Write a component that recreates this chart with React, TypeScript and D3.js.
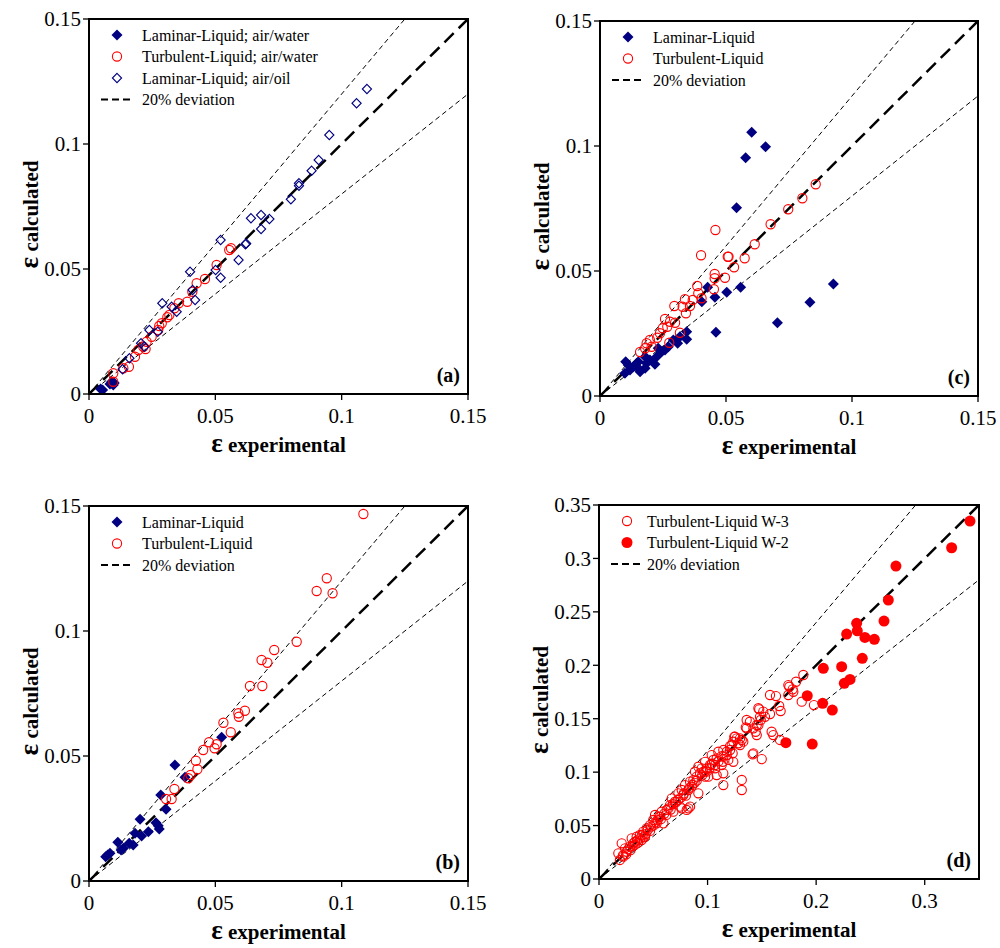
import { useEffect, useRef } from "react";
import * as d3 from "d3";

type Pt = [number, number];

// axis ticks
const ticks015 = [0, 0.05, 0.1, 0.15];
const labels015 = ["0", "0.05", "0.1", "0.15"];
const ticksDy = [0, 0.05, 0.1, 0.15, 0.2, 0.25, 0.3, 0.35];
const labelsDy = ["0", "0.05", "0.1", "0.15", "0.2", "0.25", "0.3", "0.35"];
const ticksDx = [0, 0.1, 0.2, 0.3];
const labelsDx = ["0", "0.1", "0.2", "0.3"];

// panel (a)
const aLaminarWater: Pt[] = [
  [0.0046, 0.002], [0.0054, 0.0016], [0.0083, 0.004], [0.0096, 0.0036],
  [0.009, 0.0049], [0.01, 0.0044],
];
const aTurbulentWater: Pt[] = [
  [0.0555, 0.0576], [0.0562, 0.0583], [0.0505, 0.0516], [0.0459, 0.046],
  [0.0426, 0.0443], [0.0409, 0.0409], [0.0389, 0.0369], [0.0355, 0.0363],
  [0.0338, 0.0343], [0.0318, 0.0316], [0.031, 0.0307], [0.0288, 0.0283],
  [0.0278, 0.0272], [0.0274, 0.0256], [0.0248, 0.0229], [0.0228, 0.0209],
  [0.0215, 0.0189], [0.0224, 0.018], [0.0182, 0.0149], [0.0158, 0.0109],
  [0.0136, 0.0103], [0.0096, 0.0083], [0.0096, 0.0049], [0.0195, 0.0176],
];
const aLaminarOil: Pt[] = [
  [0.11, 0.122], [0.1059, 0.1163], [0.0951, 0.1036], [0.0909, 0.0936],
  [0.0881, 0.0893], [0.0831, 0.0843], [0.0831, 0.0833], [0.0799, 0.0779],
  [0.0681, 0.0716], [0.0641, 0.0703], [0.0714, 0.07], [0.0681, 0.066],
  [0.0619, 0.0599], [0.0622, 0.0602], [0.0592, 0.0536], [0.0521, 0.0616],
  [0.0501, 0.0496], [0.0521, 0.0465], [0.04, 0.0489], [0.041, 0.0416],
  [0.042, 0.0376], [0.029, 0.0363], [0.0327, 0.0349], [0.0347, 0.0329],
  [0.0239, 0.0256], [0.0206, 0.0203], [0.0219, 0.0189], [0.0272, 0.0249],
  [0.016, 0.0143], [0.0133, 0.0099],
];

// panel (b)
const bLaminar: Pt[] = [
  [0.0525, 0.0575], [0.034, 0.0464], [0.038, 0.0415], [0.0284, 0.0344],
  [0.0305, 0.0287], [0.0202, 0.0247], [0.0265, 0.0233], [0.0274, 0.0221],
  [0.0278, 0.0208], [0.0235, 0.0197], [0.0182, 0.0191], [0.0208, 0.018],
  [0.0114, 0.0155], [0.0175, 0.0144], [0.0159, 0.0151], [0.0127, 0.0124],
  [0.0136, 0.0131], [0.0083, 0.0111], [0.0066, 0.0097], [0.0074, 0.0104],
];
const bTurbulent: Pt[] = [
  [0.1086, 0.1468], [0.0941, 0.1211], [0.0901, 0.116], [0.0964, 0.1151],
  [0.0822, 0.0957], [0.0733, 0.0924], [0.0683, 0.0884], [0.0706, 0.0873],
  [0.0637, 0.078], [0.0686, 0.078], [0.0617, 0.0681], [0.0591, 0.0671],
  [0.0593, 0.0657], [0.0532, 0.0633], [0.0561, 0.0595], [0.0475, 0.0555],
  [0.0505, 0.0547], [0.0497, 0.0531], [0.0452, 0.0524], [0.0423, 0.0481],
  [0.0429, 0.0447], [0.0402, 0.0424], [0.0393, 0.0411], [0.0338, 0.0368],
  [0.0305, 0.0328], [0.0327, 0.0328],
];

// panel (c)
const cLaminar: Pt[] = [
  [0.0602, 0.1055], [0.0657, 0.0997], [0.0578, 0.0953], [0.0542, 0.0753],
  [0.0926, 0.0448], [0.0833, 0.0375], [0.0704, 0.0293], [0.046, 0.0255],
  [0.0558, 0.0435], [0.0503, 0.0415], [0.0456, 0.0395], [0.0427, 0.0435],
  [0.0404, 0.0377], [0.0344, 0.0257], [0.0344, 0.0227], [0.0308, 0.0211],
  [0.0271, 0.0197], [0.0245, 0.0177], [0.0218, 0.0127], [0.0179, 0.0157],
  [0.0152, 0.0137], [0.0102, 0.0137], [0.0099, 0.0091], [0.0119, 0.0104],
  [0.0132, 0.0117], [0.0159, 0.0097], [0.0179, 0.0111], [0.0198, 0.0144],
  [0.0225, 0.0157], [0.0258, 0.0184], [0.0291, 0.0224], [0.0317, 0.0237],
  [0.0231, 0.0191], [0.0146, 0.0117], [0.0112, 0.0124], [0.0185, 0.0131],
];
const cTurbulent: Pt[] = [
  [0.0856, 0.0847], [0.0803, 0.0791], [0.0747, 0.0747], [0.0677, 0.0687],
  [0.0458, 0.0664], [0.0614, 0.0607], [0.0401, 0.0563], [0.0507, 0.0557],
  [0.051, 0.0557], [0.0574, 0.0551], [0.0532, 0.0515], [0.0455, 0.0488],
  [0.0455, 0.0471], [0.0496, 0.0473], [0.0452, 0.0427], [0.0386, 0.044],
  [0.039, 0.0411], [0.0403, 0.0391], [0.0337, 0.0387], [0.0368, 0.0384],
  [0.0295, 0.036], [0.0328, 0.0357], [0.0357, 0.036], [0.0341, 0.0331],
  [0.0258, 0.0308], [0.0278, 0.0297], [0.0298, 0.0293], [0.0249, 0.0271],
  [0.0267, 0.0277], [0.0317, 0.0253], [0.0275, 0.0213], [0.0238, 0.0251],
  [0.0198, 0.0224], [0.0185, 0.0211], [0.0205, 0.0197], [0.0179, 0.0191],
  [0.0159, 0.0176], [0.0227, 0.0233],
];

// panel (d)
const dW3: Pt[] = [
  [0.1882, 0.1909], [0.1815, 0.1846], [0.1753, 0.1799], [0.179, 0.1752],
  [0.1744, 0.1722], [0.163, 0.1712], [0.1575, 0.1722], [0.1867, 0.1659],
  [0.198, 0.1628], [0.166, 0.1619], [0.1673, 0.1572], [0.1476, 0.1588],
  [0.1575, 0.1544], [0.1529, 0.1518], [0.149, 0.1488], [0.136, 0.1488],
  [0.1468, 0.1441], [0.1422, 0.141], [0.1352, 0.1419], [0.1443, 0.1378],
  [0.1453, 0.1347], [0.159, 0.1378], [0.1605, 0.1347], [0.1667, 0.1301],
  [0.1246, 0.1331], [0.1268, 0.1316], [0.1315, 0.1301], [0.1237, 0.1285],
  [0.1299, 0.1254], [0.1207, 0.1244], [0.1145, 0.1207], [0.1176, 0.116],
  [0.1099, 0.1191], [0.1084, 0.1129], [0.1038, 0.116], [0.1231, 0.1176],
  [0.1415, 0.1166], [0.1499, 0.1122], [0.114, 0.1097], [0.1023, 0.1067],
  [0.0977, 0.1097], [0.1069, 0.1036], [0.0946, 0.1036], [0.0992, 0.1004],
  [0.0915, 0.1051], [0.1145, 0.0989], [0.0884, 0.1004], [0.1145, 0.0879],
  [0.1315, 0.0927], [0.1315, 0.0833], [0.1784, 0.1775], [0.1744, 0.1815],
  [0.0209, 0.0334], [0.0178, 0.024], [0.0193, 0.0178], [0.0224, 0.0209],
  [0.0255, 0.0255], [0.024, 0.0287], [0.0286, 0.0302], [0.0316, 0.0334],
  [0.0301, 0.0381], [0.0347, 0.0396], [0.0332, 0.0349], [0.0378, 0.0412],
  [0.0408, 0.0443], [0.0393, 0.0365], [0.0439, 0.0474], [0.0424, 0.0396],
  [0.047, 0.0505], [0.05, 0.0552], [0.0516, 0.0599], [0.0531, 0.0521],
  [0.0562, 0.0583], [0.0577, 0.063], [0.0593, 0.0521], [0.0623, 0.0646],
  [0.0654, 0.0692], [0.067, 0.0755], [0.07, 0.0723], [0.0685, 0.063],
  [0.0746, 0.0677], [0.0762, 0.0661], [0.0823, 0.0661], [0.0808, 0.0646],
  [0.0839, 0.0677], [0.0731, 0.0802], [0.0762, 0.0833], [0.0792, 0.0879],
  [0.0777, 0.0786], [0.0823, 0.0833], [0.0854, 0.0864], [0.0869, 0.0926],
  [0.0839, 0.0911], [0.0915, 0.0802], [0.09, 0.0958], [0.093, 0.0989],
  [0.0961, 0.1004], [0.0992, 0.1036], [0.0977, 0.0958], [0.1007, 0.0958],
  [0.1084, 0.0973], [0.1069, 0.1067], [0.1053, 0.1114], [0.113, 0.1067],
  [0.1145, 0.1145], [0.1176, 0.1191], [0.1207, 0.1207], [0.1222, 0.1254],
  [0.1191, 0.1114], [0.1237, 0.1097], [0.1253, 0.1331], [0.1299, 0.1316],
  [0.1329, 0.1285], [0.1283, 0.127], [0.1422, 0.1176], [0.136, 0.141],
  [0.139, 0.1472], [0.1453, 0.1441], [0.1483, 0.1518], [0.1513, 0.1566],
  [0.1468, 0.1598], [0.022, 0.022], [0.025, 0.023], [0.027, 0.028],
  [0.029, 0.027], [0.031, 0.031], [0.033, 0.032], [0.035, 0.036],
  [0.036, 0.034], [0.038, 0.038], [0.04, 0.041], [0.041, 0.039],
  [0.043, 0.042], [0.045, 0.046], [0.047, 0.045], [0.048, 0.049],
  [0.05, 0.05], [0.052, 0.053], [0.054, 0.055], [0.055, 0.058],
  [0.057, 0.056], [0.06, 0.061], [0.062, 0.06], [0.064, 0.066],
  [0.066, 0.065], [0.068, 0.07], [0.071, 0.072], [0.073, 0.074],
  [0.075, 0.076], [0.078, 0.08], [0.08, 0.078], [0.083, 0.085],
  [0.086, 0.088], [0.088, 0.09], [0.09, 0.092], [0.095, 0.097],
  [0.098, 0.101], [0.102, 0.104], [0.104, 0.108], [0.11, 0.11],
  [0.113, 0.115],
];
const dW2: Pt[] = [
  [0.3417, 0.335], [0.3248, 0.31], [0.2735, 0.2929], [0.2665, 0.261],
  [0.2625, 0.2414], [0.2373, 0.2393], [0.2379, 0.2323], [0.2281, 0.2292],
  [0.2449, 0.2261], [0.2536, 0.2243], [0.2425, 0.2065], [0.2066, 0.1972],
  [0.2235, 0.1987], [0.2259, 0.1831], [0.2312, 0.1868], [0.1918, 0.1715],
  [0.206, 0.1644], [0.2149, 0.1581], [0.1721, 0.1276], [0.1964, 0.1263],
];

const NAVY = "#000080";
const RED = "#ff0000";
const FONT = "'Liberation Serif', 'Times New Roman', serif";

type Kind = "diamondFill" | "diamondOpen" | "circleOpen" | "circleFill";
type Series = { label: string; kind: Kind; data: Pt[] };

const panels = [
  {
    id: "a", left: 89, top: 19, w: 379, h: 375, max: 0.15,
    xt: ticks015, xl: labels015, yt: ticks015, yl: labels015,
    textDx: 53,
    series: [
      { label: "Laminar-Liquid; air/water", kind: "diamondFill", data: aLaminarWater },
      { label: "Turbulent-Liquid; air/water", kind: "circleOpen", data: aTurbulentWater },
      { label: "Laminar-Liquid; air/oil", kind: "diamondOpen", data: aLaminarOil },
    ] as Series[],
  },
  {
    id: "c", left: 600, top: 21, w: 378, h: 375, max: 0.15,
    xt: ticks015, xl: labels015, yt: ticks015, yl: labels015,
    textDx: 53,
    series: [
      { label: "Laminar-Liquid", kind: "diamondFill", data: cLaminar },
      { label: "Turbulent-Liquid", kind: "circleOpen", data: cTurbulent },
    ] as Series[],
  },
  {
    id: "b", left: 89, top: 506, w: 379, h: 375, max: 0.15,
    xt: ticks015, xl: labels015, yt: ticks015, yl: labels015,
    textDx: 53,
    series: [
      { label: "Laminar-Liquid", kind: "diamondFill", data: bLaminar },
      { label: "Turbulent-Liquid", kind: "circleOpen", data: bTurbulent },
    ] as Series[],
  },
  {
    id: "d", left: 599, top: 505, w: 380, h: 374, max: 0.35,
    xt: ticksDx, xl: labelsDx, yt: ticksDy, yl: labelsDy,
    textDx: 48,
    series: [
      { label: "Turbulent-Liquid W-3", kind: "circleOpen", data: dW3 },
      { label: "Turbulent-Liquid W-2", kind: "circleFill", data: dW2 },
    ] as Series[],
  },
];

const diamond = (r: number) => `M0,${-r}L${r},0L0,${r}L${-r},0Z`;

function addMarker(g: any, kind: Kind, cx: number, cy: number) {
  if (kind === "diamondFill") {
    g.append("path").attr("d", diamond(5.5)).attr("transform", `translate(${cx},${cy})`).attr("fill", NAVY);
  } else if (kind === "diamondOpen") {
    g.append("path").attr("d", diamond(4.6)).attr("transform", `translate(${cx},${cy})`)
      .attr("fill", "none").attr("stroke", NAVY).attr("stroke-width", 1.1);
  } else if (kind === "circleOpen") {
    g.append("circle").attr("cx", cx).attr("cy", cy).attr("r", 4.6)
      .attr("fill", "none").attr("stroke", RED).attr("stroke-width", 1.1);
  } else {
    g.append("circle").attr("cx", cx).attr("cy", cy).attr("r", 5.5).attr("fill", RED);
  }
}

const App = () => {
  const svgRef = useRef<SVGSVGElement>(null);

  useEffect(() => {
    const svg = d3.select(svgRef.current);
    svg.selectAll("*").remove();
    const defs = svg.append("defs");

    panels.forEach((p) => {
      const x = d3.scaleLinear().domain([0, p.max]).range([p.left, p.left + p.w]);
      const y = d3.scaleLinear().domain([0, p.max]).range([p.top + p.h, p.top]);
      const g = svg.append("g").style("font-family", FONT);

      defs.append("clipPath").attr("id", `clip-${p.id}`)
        .append("rect").attr("x", p.left).attr("y", p.top).attr("width", p.w).attr("height", p.h);

      const plot = g.append("g").attr("clip-path", `url(#clip-${p.id})`);
      const line = d3.line<Pt>().x((d) => x(d[0])).y((d) => y(d[1]));

      // 20% deviation lines
      plot.append("path").attr("d", line([[0, 0], [p.max / 1.2, p.max]]))
        .attr("stroke", "#000").attr("stroke-width", 1).attr("stroke-dasharray", "5,3.5").attr("fill", "none");
      plot.append("path").attr("d", line([[0, 0], [p.max, p.max * 0.8]]))
        .attr("stroke", "#000").attr("stroke-width", 1).attr("stroke-dasharray", "5,3.5").attr("fill", "none");
      plot.append("path").attr("d", line([[0, 0], [p.max, p.max]]))
        .attr("stroke", "#000").attr("stroke-width", 2.5).attr("stroke-dasharray", "13,7").attr("fill", "none");

      p.series.forEach((s) => {
        const sg = plot.append("g");
        s.data.forEach((d) => addMarker(sg, s.kind, x(d[0]), y(d[1])));
      });

      // frame
      g.append("rect").attr("x", p.left).attr("y", p.top).attr("width", p.w).attr("height", p.h)
        .attr("fill", "none").attr("stroke", "#000").attr("stroke-width", 2);

      // x ticks
      p.xt.forEach((t, i) => {
        g.append("line").attr("x1", x(t)).attr("x2", x(t))
          .attr("y1", p.top + p.h).attr("y2", p.top + p.h + 6)
          .attr("stroke", "#000").attr("stroke-width", 1.3);
        g.append("text").attr("x", x(t)).attr("y", p.top + p.h + 29)
          .attr("text-anchor", "middle").attr("font-size", 21).text(p.xl[i]);
      });
      // y ticks
      p.yt.forEach((t, i) => {
        g.append("line").attr("x1", p.left - 6).attr("x2", p.left)
          .attr("y1", y(t)).attr("y2", y(t))
          .attr("stroke", "#000").attr("stroke-width", 1.3);
        g.append("text").attr("x", p.left - 8).attr("y", y(t)).attr("dy", "0.35em")
          .attr("text-anchor", "end").attr("font-size", 21).text(p.yl[i]);
      });

      // axis titles
      const xt = g.append("text").attr("x", p.left + p.w / 2).attr("y", p.top + p.h + 58)
        .attr("text-anchor", "middle").attr("font-weight", "bold").attr("font-size", 21);
      xt.append("tspan").attr("font-size", 27).text("ε");
      xt.append("tspan").text(" experimental");

      const cy = p.top + p.h / 2 + 8;
      const yt = g.append("text").attr("transform", `translate(${p.left - 51},${cy}) rotate(-90)`)
        .attr("text-anchor", "middle").attr("font-weight", "bold").attr("font-size", 21);
      yt.append("tspan").attr("font-size", 27).text("ε");
      yt.append("tspan").text(" calculated");

      // panel tag
      g.append("text").attr("x", p.left + p.w - 8).attr("y", p.top + p.h - 12)
        .attr("text-anchor", "end").attr("font-weight", "bold").attr("font-size", 20)
        .text(`(${p.id})`);

      // legend
      const lg = g.append("g");
      const rows = [...p.series.map((s) => s.label), "20% deviation"];
      rows.forEach((label, i) => {
        const ry = p.top + 16 + i * 21.5;
        if (i < p.series.length) {
          addMarker(lg, p.series[i].kind, p.left + 28, ry);
        } else {
          lg.append("line").attr("x1", p.left + 12).attr("x2", p.left + 43)
            .attr("y1", ry).attr("y2", ry).attr("stroke", "#000")
            .attr("stroke-width", 1.8).attr("stroke-dasharray", "7,4");
        }
        lg.append("text").attr("x", p.left + p.textDx).attr("y", ry).attr("dy", "0.35em")
          .attr("font-size", 16).text(label);
      });
    });
  }, []);

  return (
    <svg
      ref={svgRef}
      width={1000}
      height={948}
      style={{ position: "absolute", left: 0, top: 0, background: "#fff" }}
    ></svg>
  );
};

export default App;
